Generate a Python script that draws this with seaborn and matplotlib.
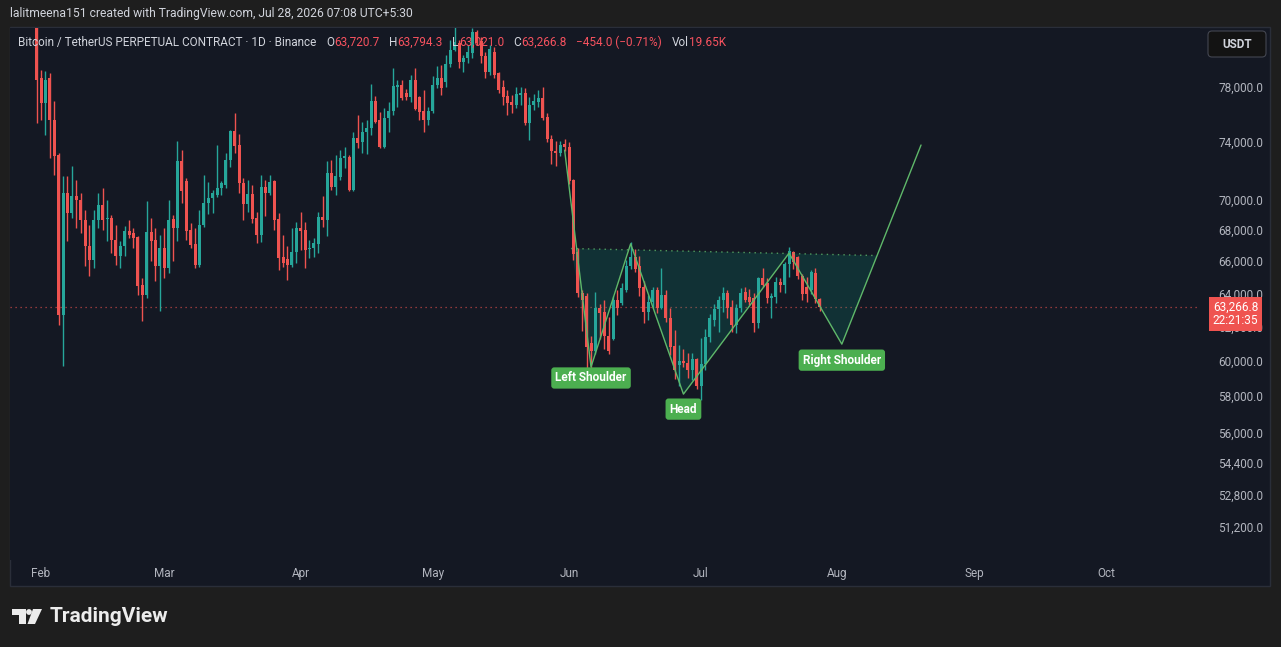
import numpy as np
import pandas as pd
import matplotlib
matplotlib.use('Agg')
import matplotlib.pyplot as plt
import matplotlib.dates as mdates
import matplotlib.transforms as mtransforms
from matplotlib.patches import Rectangle, Circle, Polygon, FancyBboxPatch
from matplotlib.offsetbox import TextArea, HPacker, AnchoredOffsetbox
import seaborn as sns

# ---- data: BTCUSDT.P daily, 31 Jan -> 28 Jul 2026 ----
first_day = '2026-01-31'
opens = [83500, 78750, 76890, 78750, 75650, 73160, 62770, 70540, 69210, 70350,
         70080, 68750, 67060, 66170, 68750, 69740, 68800, 68880, 67450, 66420,
         67060, 68020, 67890, 67630, 64600, 63980, 67960, 67450, 65790, 66930,
         65660, 68820, 68220, 72740, 71360, 68090, 67190, 65850, 68410, 69870,
         70220, 70400, 70890, 71090, 72810, 74860, 73860, 71220, 69810, 70470,
         68880, 67760, 70960, 70540, 71360, 68820, 66360, 66230, 65850, 66680,
         68220, 68090, 66870, 66930, 67190, 68960, 68750, 71910, 70960, 71640,
         72950, 73020, 70750, 74360, 74070, 74800, 75100, 77030, 75650, 73720,
         75800, 76310, 78080, 78230, 77630, 77330, 78600, 77330, 76300, 75650,
         76300, 78230, 78750, 78450, 79800, 80900, 81430, 79960, 80280, 80660,
         82300, 81590, 80440, 79200, 80740, 79130, 78080, 77410, 76970, 76730,
         77480, 77630, 75430, 76730, 76950, 77260, 75880, 74290, 73440, 73290,
         73940, 73720, 71430, 66680, 64110, 63940, 61130, 60680, 63180, 62930,
         61520, 61370, 63690, 63500, 64300, 65790, 66360, 65790, 64490, 62930,
         63560, 64300, 63180, 63980, 62610, 60940, 59830, 60080, 59950, 59550,
         60200, 58660, 59890, 61490, 62480, 63120, 63690, 64110, 63240, 62170,
         63180, 64170, 63880, 63820, 62270, 65030, 64710, 63820, 63880, 64780,
         64600, 65910, 66680, 66360, 65160, 64490, 64300, 65350, 63720.7]
highs = [84500, 79340, 79260, 79130, 77030, 73300, 71700, 71700, 72390, 71430,
         70540, 69400, 68410, 69400, 70540, 70890, 70080, 69080, 68410, 67380,
         68340, 68750, 68220, 67700, 65030, 70010, 68880, 68220, 67760, 68220,
         70080, 69080, 74150, 73510, 71600, 68520, 68220, 69400, 71770, 71290,
         70750, 73860, 71360, 73300, 74900, 76160, 74650, 71570, 71430, 71090,
         69270, 71770, 71430, 71770, 71430, 69210, 67760, 67060, 68220, 68620,
         69270, 68620, 67450, 67570, 69270, 70350, 72740, 72810, 73160, 73510,
         73720, 73160, 74800, 76000, 75500, 75650, 78300, 77410, 76230, 76510,
         76970, 79500, 78600, 78600, 77930, 78980, 79500, 77400, 77850, 76580,
         78900, 79640, 79720, 80500, 81670, 82700, 81670, 80500, 81280, 82600,
         82450, 81900, 80740, 81280, 81150, 79200, 78600, 77850, 77480, 78080,
         78080, 78000, 77330, 77560, 77850, 78080, 76160, 74580, 74140, 74140,
         74290, 74070, 71500, 66930, 64300, 64110, 61520, 64170, 63440, 63690,
         62650, 63900, 64300, 64750, 66170, 67320, 66870, 66420, 64840, 64000,
         64500, 64500, 65660, 64300, 63180, 61870, 61010, 60740, 60560, 60560,
         60260, 61430, 61930, 62810, 63440, 63900, 64490, 64300, 63690, 63440,
         64430, 64490, 64360, 64110, 65100, 65660, 65030, 64110, 65100, 65030,
         66040, 67000, 66740, 66420, 65290, 65100, 65530, 65660, 63794.3]
lows = [75400, 75650, 74570, 72950, 71770, 62170, 59780, 67380, 68880, 68220,
        67890, 65790, 65160, 65660, 68220, 68070, 67380, 66600, 65850, 65660,
        66420, 67570, 66930, 63980, 62410, 63800, 66110, 64840, 63010, 65030,
        65350, 66110, 67380, 69870, 67450, 66930, 65660, 65700, 68280, 69140,
        69210, 70260, 70400, 70890, 72320, 73290, 70540, 68750, 69270, 68550,
        67250, 67320, 69010, 70400, 68090, 65530, 65720, 64920, 65720, 65980,
        66800, 65660, 66300, 66360, 66600, 68280, 67700, 70750, 70400, 71430,
        72260, 70680, 70680, 73650, 73290, 73230, 74580, 75430, 73650, 73650,
        74800, 76000, 76580, 77110, 77110, 76970, 76360, 75650, 74800, 75290,
        76160, 78000, 77480, 78080, 79580, 80820, 79500, 79200, 79880, 80300,
        81280, 79880, 78750, 78980, 78750, 77630, 76730, 76000, 76160, 76510,
        76730, 75290, 74210, 76360, 76580, 75650, 74070, 72540, 72390, 73090,
        73440, 71150, 66170, 63860, 61810, 59550, 59440, 60500, 61370, 60740,
        60500, 61300, 62770, 63370, 64170, 65600, 65410, 63900, 62270, 62480,
        63180, 62870, 63120, 62330, 60440, 59050, 58660, 59720, 59110, 59000,
        58500, 57880, 59550, 61180, 62140, 61750, 62930, 62610, 61750, 61680,
        62930, 63560, 63370, 61750, 62010, 64490, 63500, 62610, 63500, 64170,
        64110, 65100, 65600, 64970, 63690, 63560, 64050, 63500, 63021.0]
closes = [78600, 76890, 78600, 75650, 73090, 62770, 70540, 69210, 70350, 70080,
          68750, 67060, 66170, 68750, 69740, 68750, 68880, 67450, 66420, 67060,
          68020, 67760, 67570, 64540, 63980, 67960, 67380, 65790, 66930, 65660,
          68750, 68220, 72740, 70680, 68020, 67120, 65850, 68410, 69870, 70220,
          70540, 70890, 71230, 72810, 74860, 73790, 71220, 69810, 70470, 68820,
          67760, 70960, 70540, 71290, 68750, 66290, 65980, 65850, 66680, 68220,
          68020, 66800, 66930, 67250, 68960, 68750, 71910, 70960, 71700, 72950,
          73090, 70750, 74360, 74000, 74800, 75100, 77030, 75500, 73720, 75800,
          76310, 78150, 78230, 77260, 77330, 78600, 76430, 76230, 75650, 76300,
          78230, 78750, 78000, 79800, 80900, 81510, 79960, 80280, 80740, 82300,
          81430, 80440, 79200, 81000, 78980, 77850, 77330, 76890, 76730, 77560,
          77630, 75430, 76730, 77030, 77260, 75800, 74290, 73440, 73290, 73860,
          73720, 71360, 66550, 64110, 63690, 60880, 60680, 63180, 62870, 61520,
          60680, 63690, 63180, 64430, 65790, 66360, 65600, 64430, 62930, 63560,
          64300, 63180, 63980, 62610, 60880, 59550, 60080, 59950, 59550, 60200,
          58660, 59890, 61490, 62610, 63120, 63690, 64110, 63180, 62170, 63180,
          64110, 63690, 63560, 62270, 65030, 64600, 63820, 63900, 64780, 64600,
          65910, 66740, 66040, 65160, 64040, 64040, 65410, 63760, 63266.8]

# head & shoulders drawing (zigzag points)
pattern_dates = ['2026-05-31', '2026-06-06', '2026-06-15', '2026-06-27',
                 '2026-07-21', '2026-08-02', '2026-08-20']
pattern_prices = [73500, 59730, 67200, 58200, 66600, 61050, 73860]
pattern_names = ['', 'Left Shoulder', '', 'Head', '', 'Right Shoulder', '']
neck_dates = ['2026-06-01 12:00', '2026-08-09 22:00']
neck_prices = [66900, 66450]

price_ticks = [78000, 74000, 70000, 68000, 66000, 64000, 62000, 60000,
               58000, 56000, 54400, 52800, 51200]
month_ticks = ['2026-02-01', '2026-03-01', '2026-04-01', '2026-05-01', '2026-06-01',
               '2026-07-01', '2026-08-01', '2026-09-01', '2026-10-01']
month_labels = ['Feb', 'Mar', 'Apr', 'May', 'Jun', 'Jul', 'Aug', 'Sep', 'Oct']

last_price = 63266.8
countdown = '22:21:35'
header = 'lalitmeena151 created with TradingView.com, Jul 28, 2026 07:08 UTC+5:30'
symbol = 'Bitcoin / TetherUS PERPETUAL CONTRACT \u00b7 1D \u00b7 Binance'
legend_pairs = [('O', '63,720.7'), ('H', '63,794.3'), ('L', '63,021.0'),
                ('C', '63,266.8'), ('', '\u2212454.0 (\u22120.71%)'), ('Vol', '19.65K')]

# ---- style ----
W, H = 1281, 647
OUTER = '#1e1e1e'
PANEL = '#141823'
TXT = '#b2b5be'
UP, DOWN = '#26a69a', '#ef5350'
PAT = '#5fb86a'
LABEL_BG = '#4caf50'

sns.set_style('dark', rc={'axes.facecolor': PANEL, 'figure.facecolor': OUTER})
plt.rcParams['font.family'] = ['Roboto', 'DejaVu Sans']


def fx(x):
    return x / W


def fy(y):
    return 1 - y / H


fig = plt.figure(figsize=(W / 100, H / 100), dpi=100)
fig.patches.append(Rectangle((fx(10), fy(586)), fx(1260), (586 - 27) / H,
                             transform=fig.transFigure, fc=PANEL, ec='#2a2e39',
                             lw=1, zorder=-5))
ax = fig.add_axes([fx(10), fy(560), fx(1190), 532 / H])
ax.set_facecolor(PANEL)
ax.set_zorder(1)

df = pd.DataFrame({'date': pd.date_range(first_day, periods=len(opens), freq='D'),
                   'open': opens, 'high': highs, 'low': lows, 'close': closes})
up = df['close'] >= df['open']
colors = np.where(up, UP, DOWN)
body_lo = df[['open', 'close']].min(axis=1)
body_h = np.maximum((df['close'] - df['open']).abs(), df['close'] * 0.001)

ax.vlines(df['date'], df['low'], df['high'], colors=colors, lw=1, zorder=3)
ax.bar(df['date'], body_h, bottom=body_lo, width=0.68, color=colors, lw=0, zorder=4)

# last price line
ax.axhline(last_price, color=DOWN, lw=0.9, ls=(0, (1, 3)), alpha=0.75, zorder=1)

# pattern fill + zigzag + neckline
pat = pd.DataFrame({'date': pd.to_datetime(pattern_dates), 'price': pattern_prices})
fill_x = [pd.Timestamp(neck_dates[0])] + list(pat['date'][1:6]) + [pd.Timestamp(neck_dates[1])]
fill_y = [neck_prices[0]] + list(pat['price'][1:6]) + [neck_prices[1]]
ax.fill(mdates.date2num(fill_x), fill_y, color='#089981', alpha=0.2, lw=0, zorder=2)
sns.lineplot(data=pat, x='date', y='price', sort=False, estimator=None,
             color=PAT, lw=1, ax=ax, zorder=5)
ax.plot(pd.to_datetime(neck_dates), neck_prices, color=PAT, lw=1,
        ls=(0, (1, 3)), alpha=0.8, zorder=5)

label_offsets = {'Left Shoulder': -11, 'Head': -15, 'Right Shoulder': -16}
for d, p, name in zip(pattern_dates, pattern_prices, pattern_names):
    if not name:
        continue
    ax.annotate(name, xy=(mdates.date2num(pd.Timestamp(d)), p),
                xytext=(0, label_offsets[name]), textcoords='offset pixels',
                ha='center', va='center', color='white', fontsize=8.5,
                fontweight='bold', zorder=8,
                bbox=dict(boxstyle='round,pad=0.35,rounding_size=0.25',
                          fc=LABEL_BG, ec='none'))

ax.set_yscale('log')
ax.set_ylim(49660, 82610)
feb1 = pd.Timestamp('2026-02-01')
ax.set_xlim(feb1 - pd.Timedelta(days=7.05), feb1 + pd.Timedelta(days=263.4))
ax.yaxis.set_major_locator(matplotlib.ticker.NullLocator())
ax.yaxis.set_minor_locator(matplotlib.ticker.NullLocator())
ax.set_xticks(pd.to_datetime(month_ticks))
ax.set_xticklabels(month_labels)
ax.xaxis.set_minor_locator(matplotlib.ticker.NullLocator())
ax.tick_params(axis='x', length=0, pad=5, colors=TXT, labelsize=8.5)
ax.set_xlabel('')
ax.set_ylabel('')
ax.grid(False)
for s in ax.spines.values():
    s.set_visible(False)

# price scale labels
trans = mtransforms.blended_transform_factory(ax.transAxes, ax.transData)
for p in price_ticks:
    ax.text(1 + 63 / 1190, p, f'{p:,.1f}', transform=trans, ha='right',
            va='center', color=TXT, fontsize=8.5, clip_on=False)
ax.annotate(f'{last_price:,.1f}\n{countdown}', xy=(1 + 35.5 / 1190, last_price),
            xycoords=trans, xytext=(0, -7), textcoords='offset pixels',
            ha='center', va='center', color='white', fontsize=8.5,
            linespacing=1.05, zorder=10,
            bbox=dict(boxstyle='square,pad=0.3', fc=DOWN, ec='none'))

# legend line
children = [TextArea(symbol, textprops=dict(color='#d1d4dc', fontsize=8.5))]
for k, v in legend_pairs:
    parts = []
    if k:
        parts.append(TextArea(k, textprops=dict(color='#d1d4dc', fontsize=8.5)))
    parts.append(TextArea(v, textprops=dict(color='#f7525f', fontsize=8.5)))
    children.append(HPacker(children=parts, sep=0, pad=0, align='baseline'))
legend = AnchoredOffsetbox(loc='center left', child=HPacker(children=children, sep=7,
                                                             pad=0, align='baseline'),
                           bbox_to_anchor=(fx(18), fy(42)), bbox_transform=fig.transFigure,
                           frameon=False, pad=0, borderpad=0)
ax.add_artist(legend)

# USDT button
fig.patches.append(FancyBboxPatch((1208, H - 57), 58, 26,
                                  boxstyle='round,pad=0,rounding_size=4',
                                  transform=mtransforms.IdentityTransform(),
                                  fc='#131313', ec='#434651', lw=0.8, zorder=3))
fig.text(fx(1237), fy(44), 'USDT', ha='center', va='center', color='#d1d4dc',
         fontsize=8.5, fontweight='bold', zorder=4)

# header + footer
fig.text(fx(10), fy(14), header, ha='left', va='center', color='#d1d4dc', fontsize=8.7)
idt = mtransforms.IdentityTransform()
for patch in [Rectangle((12, H - 615), 14, 6),
              Rectangle((18.5, H - 624), 7.5, 15),
              Circle((29, H - 612), 2.9),
              Polygon([(33, H - 609), (42, H - 609), (35, H - 624), (27.5, H - 624)])]:
    patch.set_transform(idt)
    patch.set_facecolor('#ececec')
    patch.set_edgecolor('none')
    fig.patches.append(patch)
fig.text(fx(50), fy(616), 'TradingView', ha='left', va='center', color='#ececec',
         fontsize=15, fontweight='bold')

fig.savefig('out.png', dpi=100, facecolor=OUTER)
